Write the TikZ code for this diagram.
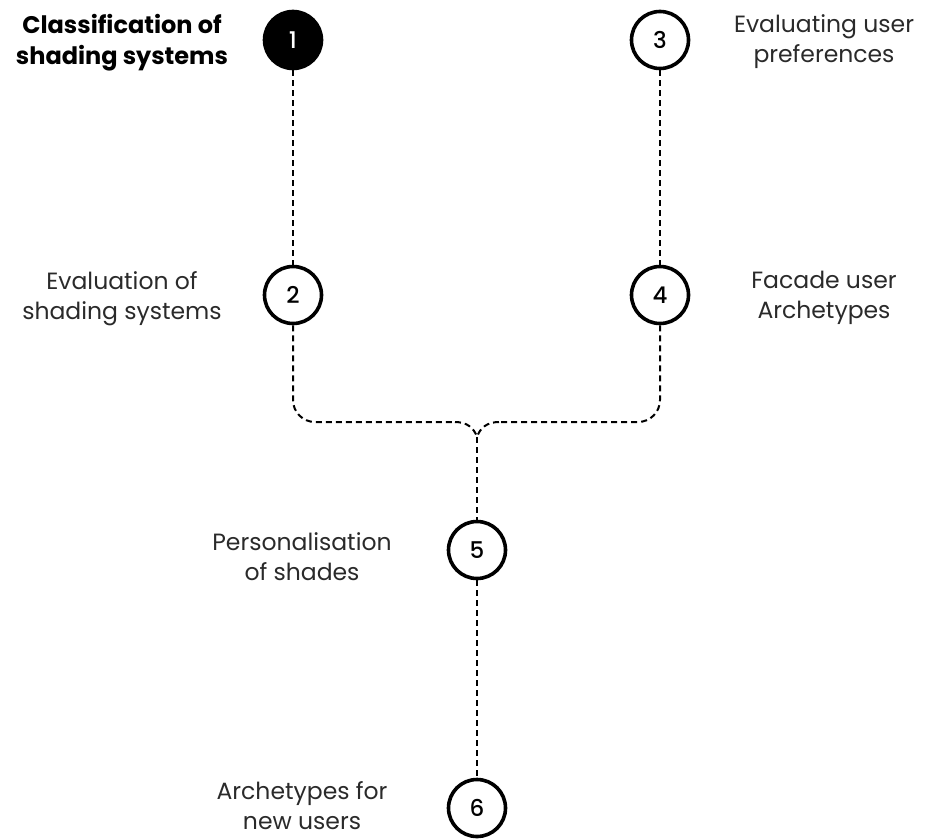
\documentclass[tikz,border=0pt]{standalone}
\usepackage{fontspec}
\setmainfont{Poppins}
\newfontfamily\numfont{Poppins Medium}
\definecolor{ink}{HTML}{2A2A2A}
\begin{document}
\begin{tikzpicture}[x=1pt,y=-1pt,
  stepnum/.style={circle, draw=black, line width=3.6pt, minimum size=57pt, inner sep=0pt,
    fill=white, font=\numfont\fontsize{23}{23}\selectfont},
  stepfilled/.style={stepnum, fill=black, text=white},
  caption/.style={align=center, text=ink, inner sep=0pt, font=\fontsize{23.5}{30}\selectfont},
  link/.style={draw=black, line width=2pt, dash pattern=on 6pt off 4pt}]
  \useasboundingbox (0,0) rectangle (925,838);

  % step circles
  \node[stepfilled] (c1) at (293,40) {1};
  \node[stepnum] (c2) at (293,295) {2};
  \node[stepnum] (c3) at (660,40) {3};
  \node[stepnum] (c4) at (660,295) {4};
  \node[stepnum] (c5) at (477,550) {5};
  \node[stepnum] (c6) at (477,808) {6};

  % captions
  \node[caption, text=black, font=\bfseries\fontsize{24}{31}\selectfont] (t1) at (122,43) {Classification of\\shading systems};
  \node[caption] (t2) at (122,299) {Evaluation of\\shading systems};
  \node[caption] (t3) at (824,42) {Evaluating user\\preferences};
  \node[caption] (t4) at (824,298) {Facade user\\Archetypes};
  \node[caption] (t5) at (302,557) {Personalisation\\of shades};
  \node[caption] (t6) at (302,806) {Archetypes for\\new users};

  % merge point of the two branches
  \coordinate (j) at (477,437);
  \coordinate (hl) at (455,422);
  \coordinate (hr) at (499,422);

  % connectors
  \draw[link] (c1.south) -- (c2.north);
  \draw[link] (c3.south) -- (c4.north);
  \draw[link, rounded corners=22pt] (c2.south) |- (hl);
  \draw[link] (hl) .. controls (467,422) and (474,428) .. (j);
  \draw[link, rounded corners=22pt] (c4.south) |- (hr);
  \draw[link] (hr) .. controls (487,422) and (480,428) .. (j);
  \draw[link] (j) -- (c5.north);
  \draw[link] (c5.south) -- (c6.north);
\end{tikzpicture}
\end{document}
